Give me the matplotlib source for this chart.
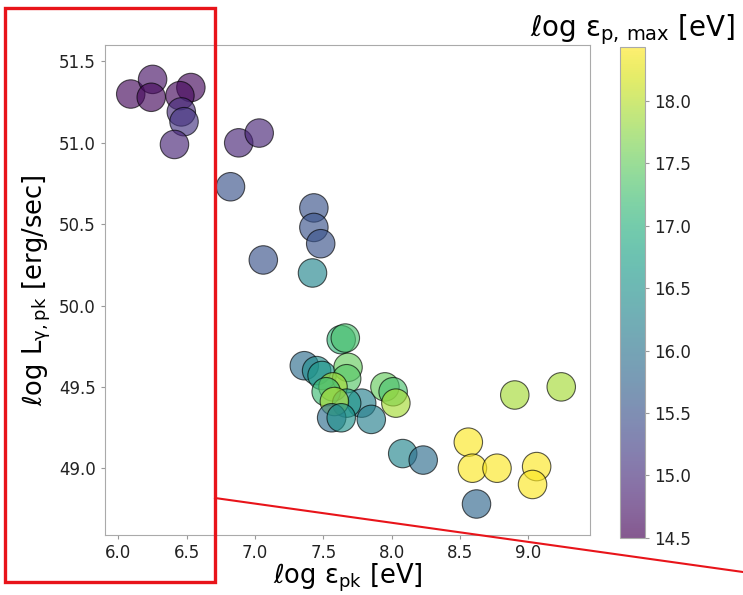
import matplotlib.pyplot as plt
from matplotlib.patches import Rectangle
from matplotlib.lines import Line2D

# peak photon energy (log eV), peak luminosity (log erg/s), max proton energy (log eV)
log_e_pk = [6.09, 6.25, 6.24, 6.53, 6.45, 6.46, 6.48, 6.41, 6.88, 7.03,
            6.82, 7.43, 7.43, 7.48, 7.06, 7.42,
            7.63, 7.66, 7.36, 7.45, 7.49, 7.68, 7.67, 7.57, 7.52, 7.78,
            7.67, 7.58, 7.56, 7.63, 7.85, 7.95, 8.01, 8.03, 8.08, 8.23,
            8.90, 9.24, 8.56, 8.59, 8.77, 9.06, 9.03, 8.62]
log_L_pk = [51.30, 51.39, 51.28, 51.34, 51.29, 51.19, 51.13, 50.99, 51.00, 51.06,
            50.73, 50.60, 50.48, 50.38, 50.28, 50.20,
            49.79, 49.80, 49.63, 49.60, 49.57, 49.62, 49.55, 49.50, 49.47, 49.40,
            49.40, 49.41, 49.31, 49.31, 49.30, 49.50, 49.47, 49.40, 49.09, 49.05,
            49.45, 49.50, 49.16, 49.00, 49.00, 49.01, 48.90, 48.78]
log_ep_max = [14.6, 14.7, 14.6, 14.6, 14.6, 15.0, 15.1, 14.9, 14.9, 14.9,
              15.5, 15.5, 15.5, 15.5, 15.5, 16.3,
              17.1, 17.3, 15.9, 16.4, 16.6, 17.5, 17.4, 17.9, 17.2, 16.2,
              16.6, 17.9, 15.9, 16.5, 16.2, 17.5, 17.3, 17.9, 16.3, 15.9,
              17.9, 17.9, 18.4, 18.4, 18.4, 18.4, 18.4, 15.8]

fig = plt.figure(figsize=(7.43, 5.95), dpi=100)
ax = fig.add_axes([0.141, 0.101, 0.653, 0.823])
cax = fig.add_axes([0.834, 0.096, 0.034, 0.825])

sc = ax.scatter(log_e_pk, log_L_pk, c=log_ep_max, cmap="viridis", vmin=14.5, vmax=18.43,
                s=420, alpha=0.65, edgecolors="black", linewidths=0.8)

ax.set_xlim(5.9, 9.45)
ax.set_ylim(48.59, 51.6)
ax.set_xticks([6.0, 6.5, 7.0, 7.5, 8.0, 8.5, 9.0])
ax.set_yticks([49.0, 49.5, 50.0, 50.5, 51.0, 51.5])
ax.tick_params(labelsize=12, colors="#999999", labelcolor="#222222", length=3)
for sp in ax.spines.values():
    sp.set_color("#aaaaaa")

ax.set_xlabel("ℓog ε$_{\\mathregular{pk}}$ [eV]", fontsize=18.5, labelpad=0)
ax.set_ylabel("ℓog L$_{\\mathregular{γ, pk}}$ [erg/sec]", fontsize=18.5, labelpad=4)

cb = fig.colorbar(sc, cax=cax)
cb.set_ticks([14.5, 15.0, 15.5, 16.0, 16.5, 17.0, 17.5, 18.0])
cb.ax.tick_params(labelsize=12, colors="#999999", labelcolor="#222222", length=3)
cb.outline.set_edgecolor("#aaaaaa")
cb.ax.set_title("ℓog ε$_{\\mathregular{p,\\,max}}$ [eV]", fontsize=20, pad=8)

# red highlight box around the y axis and pointer line
fig.add_artist(Rectangle((5 / 743, 1 - 582 / 595), 210 / 743, 574 / 595,
                         transform=fig.transFigure, fill=False,
                         edgecolor="#e8141a", linewidth=2.4))
fig.add_artist(Line2D([215 / 743, 1.0], [1 - 498 / 595, 1 - 572 / 595],
                      transform=fig.transFigure, color="#e8141a", linewidth=1.5))

fig.savefig("out.png", dpi=100)
